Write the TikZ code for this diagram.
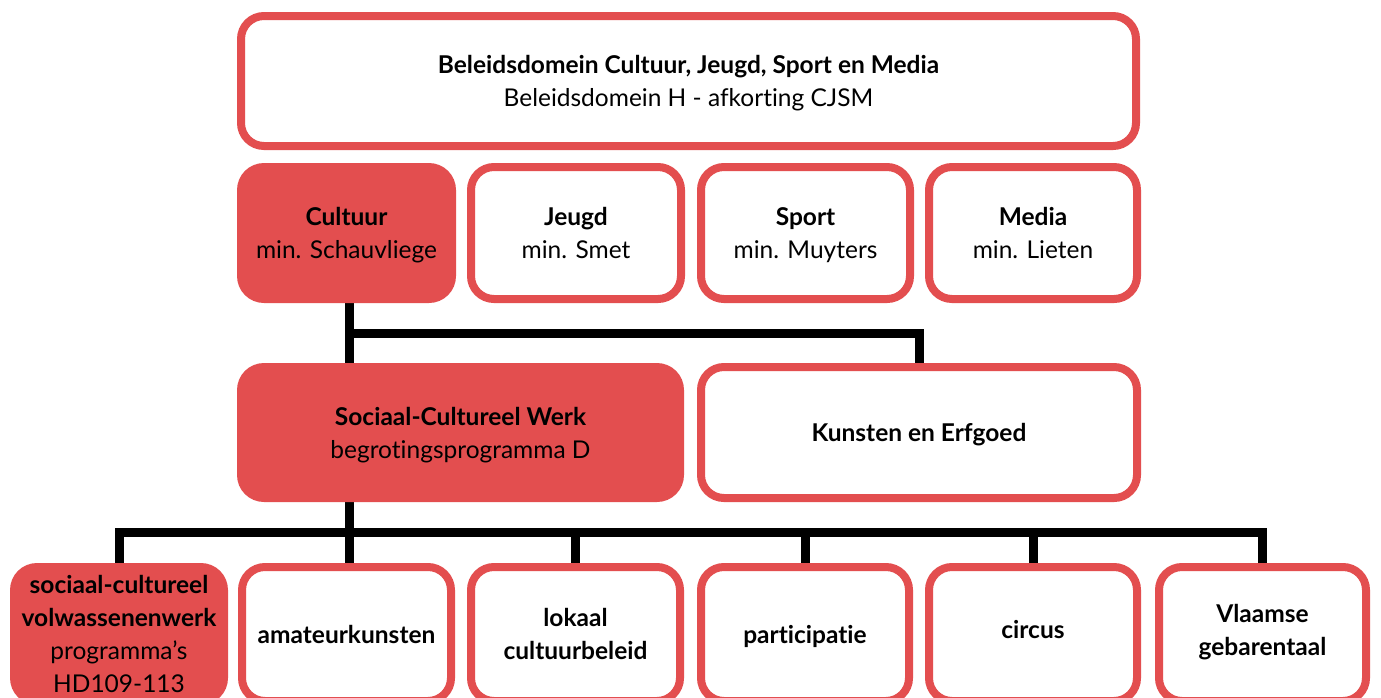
\documentclass[tikz,border=0pt]{standalone}
\usepackage{fontspec}
\setmainfont{Lato}[Ligatures={NoCommon}]
\usetikzlibrary{backgrounds}
\definecolor{vred}{RGB}{227,78,79}
\newcommand\fsz{\fontsize{24.5}{33}\selectfont}
\tikzset{
  obox/.style={draw=vred, line width=8pt, rounded corners=23pt, fill=white, align=center,
    inner sep=0pt, outer sep=0pt, font=\fsz, text=black, text depth=0pt},
  fbox/.style={fill=vred, draw=none, rounded corners=27pt, align=center,
    inner sep=0pt, outer sep=0pt, font=\fsz, text=black, text depth=0pt},
  conn/.style={line width=9pt, black, line join=miter}
}
\begin{document}
\begin{tikzpicture}[x=1pt,y=-1pt]
\useasboundingbox (0,0) rectangle (1381,697);
\clip (0,0) rectangle (1381,697);
% top
\node[obox, minimum width=895pt, minimum height=130pt] (top) at (688.5,81)
  {\textbf{Beleidsdomein Cultuur, Jeugd, Sport en Media}\\Beleidsdomein H - afkorting CJSM};
% row 2
\node[fbox, minimum width=219pt, minimum height=140pt] (cult) at (346.5,233)
  {\textbf{Cultuur}\\min. Schauvliege};
\node[obox, minimum width=210pt, minimum height=132pt] (jeugd) at (576,233)
  {\textbf{Jeugd}\\min. Smet};
\node[obox, minimum width=209pt, minimum height=132pt] (sport) at (805.5,233)
  {\textbf{Sport}\\min. Muyters};
\node[obox, minimum width=208pt, minimum height=132pt] (media) at (1033,233)
  {\textbf{Media}\\min. Lieten};
% row 3
\node[fbox, minimum width=447pt, minimum height=139pt] (scw) at (460.5,432.5)
  {\textbf{Sociaal-Cultureel Werk}\\begrotingsprogramma D};
\node[obox, minimum width=436pt, minimum height=131pt] (kun) at (919,432.5)
  {\textbf{Kunsten en Erfgoed}};
% row 4
\node[fbox, minimum width=218pt, minimum height=142pt] (vol) at (119,634)
  {\textbf{sociaal-cultureel}\\\textbf{volwassenenwerk}\\programma’s\\HD109-113};
\node[obox, minimum width=209pt, minimum height=134pt] (amat) at (346.5,634)
  {\textbf{amateurkunsten}};
\node[obox, minimum width=209pt, minimum height=134pt] (lok) at (575.5,634)
  {\textbf{lokaal}\\\textbf{cultuurbeleid}};
\node[obox, minimum width=208pt, minimum height=134pt] (part) at (805,634)
  {\textbf{participatie}};
\node[obox, minimum width=208pt, minimum height=134pt, text depth=9pt] (circ) at (1033,634)
  {\textbf{circus}};
\node[obox, minimum width=207pt, minimum height=134pt, text depth=9pt] (vg) at (1262.5,634)
  {\textbf{Vlaamse}\\\textbf{gebarentaal}};
\begin{scope}[on background layer]
  \coordinate (j1) at (349,333);
  \coordinate (j2) at (349,532);
  \draw[conn] (cult.south -| j1) -- (scw.north -| j1);
  \draw[conn] (j1) -| (kun.north);
  \draw[conn] (scw.south -| j2) -- (amat.north -| j2);
  \draw[conn] (vol.north) |- (j2) -| (vg.north);
  \draw[conn] (j2) -| (lok.north);
  \draw[conn] (j2) -| (part.north);
  \draw[conn] (j2) -| (circ.north);
\end{scope}
\end{tikzpicture}
\end{document}
